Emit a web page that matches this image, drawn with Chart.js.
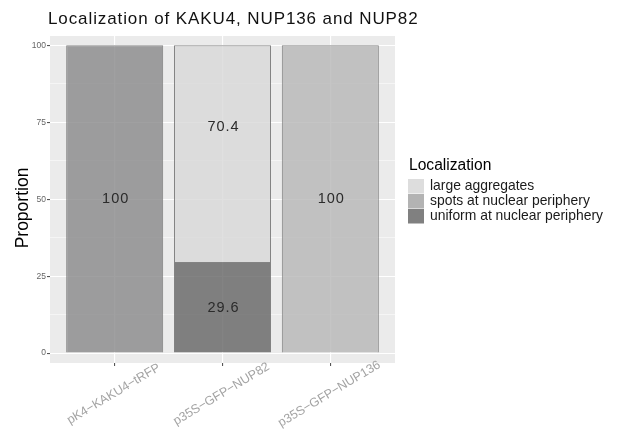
<!DOCTYPE html>
<html>
<head>
<meta charset="utf-8">
<script src="https://cdn.jsdelivr.net/npm/chart.js@4.4.1/dist/chart.umd.min.js"></script>
<style>
  html, body { margin: 0; padding: 0; background: #fff; }
  #wrap { width: 617px; height: 432px; }
</style>
</head>
<body>
<div id="wrap"><canvas id="chart"></canvas></div>
<script>
const chartTitle = 'Localization of KAKU4, NUP136 and NUP82';
const constructs = ['pK4\u2212KAKU4\u2212tRFP', 'p35S\u2212GFP\u2212NUP82', 'p35S\u2212GFP\u2212NUP136'];
const classes = ['large aggregates', 'spots at nuclear periphery', 'uniform at nuclear periphery'];
const largeAggregates = [0, 70.4, 0];
const spotsAtPeriphery = [0, 0, 100];
const uniformAtPeriphery = [100, 29.6, 0];
// where each value label sits on the y axis (per class, per construct)
const largeLabelAt = [null, 73.4, null];
const spotsLabelAt = [null, null, 50];
const uniformLabelAt = [50, 14.8, null];
const yTicks = [0, 25, 50, 75, 100];
const yMinor = [12.5, 37.5, 62.5, 87.5];

const FONT = '"Liberation Sans", Arial, Helvetica, sans-serif';
const legendColors = ['#dddddd', '#b3b3b3', '#808080'];

function points(values) {
  return values.map((v, i) => ({ x: i + 1, y: v })).filter(p => p.y > 0);
}

const panelBackground = {
  id: 'panelBackground',
  beforeDraw(chart) {
    const { ctx, chartArea: a } = chart;
    ctx.save();
    ctx.fillStyle = '#ebebeb';
    ctx.fillRect(a.left, a.top, a.right - a.left, a.bottom - a.top);
    ctx.restore();
  }
};

const valueLabels = {
  id: 'valueLabels',
  afterDatasetsDraw(chart) {
    const { ctx } = chart;
    const y = chart.scales.y;
    ctx.save();
    ctx.font = '14.5px ' + FONT;
    ctx.letterSpacing = '1px';
    ctx.fillStyle = '#2b2b2b';
    ctx.textAlign = 'center';
    ctx.textBaseline = 'middle';
    chart.data.datasets.forEach((ds, di) => {
      chart.getDatasetMeta(di).data.forEach((bar, i) => {
        const p = ds.data[i];
        const at = ds.labelAt[p.x - 1];
        if (at == null) return;
        ctx.fillText(String(p.y), bar.x + 1, y.getPixelForValue(at));
      });
    });
    ctx.restore();
  }
};

// title, rotated construct names under the ticks, and the y title
const axisText = {
  id: 'axisText',
  afterDraw(chart) {
    const { ctx } = chart;
    const x = chart.scales.x;
    ctx.save();
    ctx.textBaseline = 'middle';
    ctx.fillStyle = '#111';
    ctx.font = '17px ' + FONT;
    ctx.letterSpacing = '0.9px';
    ctx.fillText(chartTitle, chart.chartArea.left - 2, 19.5);
    ctx.letterSpacing = '0px';

    const base = chart.chartArea.bottom + 31;
    ctx.font = '12.5px ' + FONT;
    ctx.fillStyle = '#a3a3a3';
    ctx.textAlign = 'center';
    constructs.forEach((c, i) => {
      ctx.save();
      ctx.translate(x.getPixelForValue(i + 1) - 1, base);
      ctx.rotate(-31 * Math.PI / 180);
      ctx.fillText(c, 0, 0);
      ctx.restore();
    });
    ctx.fillStyle = '#000';
    ctx.font = '17.5px ' + FONT;
    ctx.translate(23, 208);
    ctx.rotate(-Math.PI / 2);
    ctx.fillText('Proportion', 0, 0);
    ctx.restore();
  }
};

const sideLegend = {
  id: 'sideLegend',
  afterDraw(chart) {
    const { ctx } = chart;
    const left = chart.chartArea.right + 13;
    ctx.save();
    ctx.textBaseline = 'middle';
    ctx.fillStyle = '#000';
    ctx.font = '15.6px ' + FONT;
    ctx.fillText('Localization', left + 1, 166);
    ctx.font = '13.9px ' + FONT;
    classes.forEach((c, i) => {
      const top = 179 + i * 15;
      ctx.fillStyle = legendColors[i];
      ctx.fillRect(left, top, 16, 14.5);
      ctx.fillStyle = '#1a1a1a';
      ctx.fillText(c, left + 22, top + 7.5);
    });
    ctx.restore();
  }
};

const barBorder = 'rgba(105,105,105,0.8)';

new Chart(document.getElementById('chart'), {
  type: 'bar',
  data: {
    datasets: [
      {
        label: classes[2],
        data: points(uniformAtPeriphery),
        labelAt: uniformLabelAt,
        backgroundColor: ['rgba(136,136,138,0.8)', 'rgba(100,100,100,0.8)'],
        borderColor: barBorder,
        borderWidth: 1
      },
      {
        label: classes[1],
        data: points(spotsAtPeriphery),
        labelAt: spotsLabelAt,
        backgroundColor: 'rgba(182,182,182,0.8)',
        borderColor: barBorder,
        borderWidth: 1
      },
      {
        label: classes[0],
        data: points(largeAggregates),
        labelAt: largeLabelAt,
        backgroundColor: 'rgba(216,216,216,0.8)',
        borderColor: barBorder,
        borderWidth: 1
      }
    ]
  },
  options: {
    responsive: true,
    maintainAspectRatio: false,
    animation: false,
    categoryPercentage: 1,
    barPercentage: 0.9,
    layout: { padding: { left: 0, right: 222, top: 36, bottom: 0 } },
    plugins: {
      legend: { display: false },
      tooltip: { enabled: false },
      title: { display: false }
    },
    scales: {
      x: {
        type: 'linear',
        min: 0.4,
        max: 3.6,
        stacked: true,
        offset: false,
        afterBuildTicks: s => { s.ticks = constructs.map((c, i) => ({ value: i + 1 })); },
        afterFit: s => { s.height = 69; },
        grid: { offset: false, color: '#ffffff', lineWidth: 1.1, tickLength: 3, tickColor: '#555' },
        border: { display: false },
        ticks: { display: false }
      },
      y: {
        min: -3.2,
        max: 103,
        stacked: true,
        afterBuildTicks: s => {
          s.ticks = yTicks.concat(yMinor).sort((a, b) => a - b).map(v => ({ value: v }));
        },
        afterFit: s => { s.width = 50; },
        grid: {
          color: '#ffffff',
          lineWidth: c => yTicks.includes(c.tick.value) ? 1.1 : 0.5,
          tickLength: 3,
          tickColor: c => yTicks.includes(c.tick.value) ? '#555' : 'rgba(0,0,0,0)'
        },
        border: { display: false },
        ticks: {
          callback: v => yTicks.includes(v) ? String(v) : '',
          font: { family: FONT, size: 8.5 },
          color: '#666',
          padding: 1
        }
      }
    }
  },
  plugins: [panelBackground, valueLabels, axisText, sideLegend]
});
</script>
</body>
</html>
